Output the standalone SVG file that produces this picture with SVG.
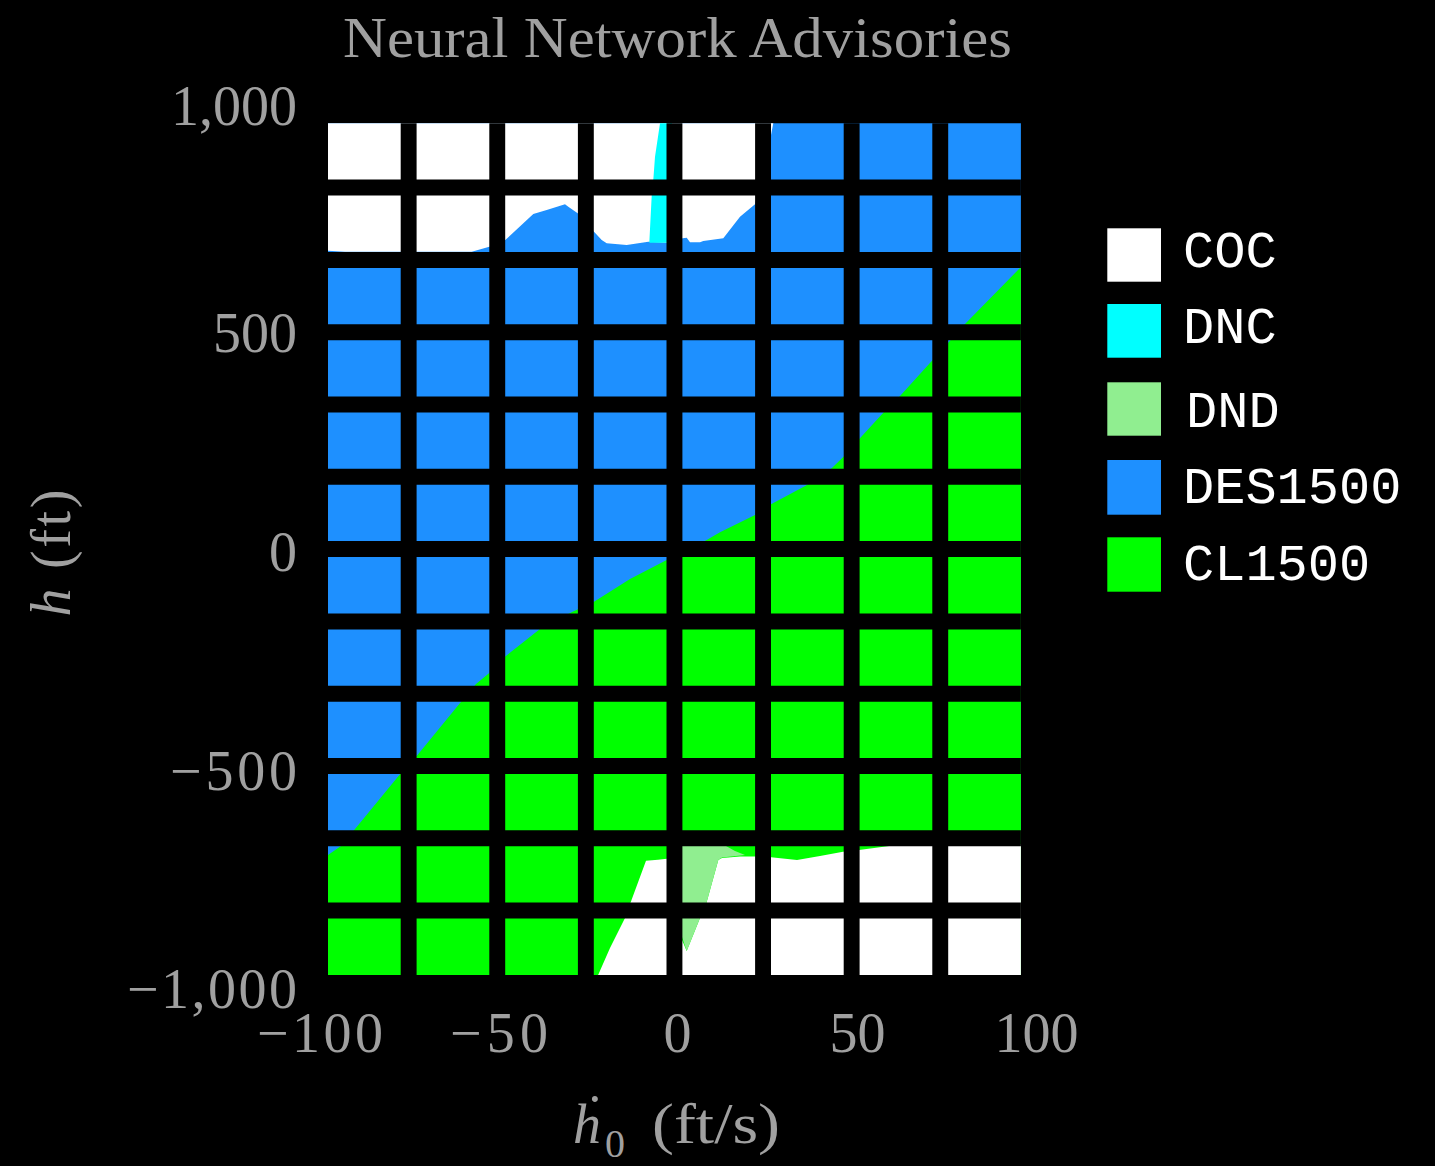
<svg xmlns="http://www.w3.org/2000/svg" width="1435" height="1166" viewBox="0 0 1435 1166">
  <style>
    .serif { font-family: "Liberation Serif", "DejaVu Serif", serif; fill: #a0a0a0; font-size: 56px; }
    .tick-y { text-anchor: end; }
    .tick-x { text-anchor: middle; }
    .legend-label { font-family: "Liberation Mono", "DejaVu Sans Mono", monospace; fill: #ffffff; font-size: 52px; }
    .coc { fill: #ffffff; }
    .dnc { fill: #00ffff; }
    .dnd { fill: #90ee90; }
    .des { fill: #1e90ff; }
    .cl  { fill: #00ff00; }
    .gap { stroke: #000000; fill: none; }
  </style>
  <defs>
    <clipPath id="plot-area">
      <rect x="328" y="123.3" width="692.9" height="851.6"/>
    </clipPath>
  </defs>

  <rect x="0" y="0" width="1435" height="1166" fill="#000000"/>

  <text id="title" class="serif" x="677.5" y="56.5" text-anchor="middle" textLength="669" lengthAdjust="spacingAndGlyphs">Neural Network Advisories</text>

  <!-- advisory regions over the (h0dot, h) plane -->
  <g id="heatmap" clip-path="url(#plot-area)">
    <rect class="des" x="320" y="115" width="710" height="870"/>
    <!-- climb region (lower right of the diagonal) -->
    <polygon class="cl" points="318,862 341,846 355,829 401,773 416.7,756 461.7,701 476,684 489,673.3 505,656.7 540,629 572,612 578,609.3 594,601.7 630,579 666.7,560 682,552 706.7,540 720,532.3 755,515 771,504.3 807,485 831.7,468.3 843,457.3 859,439.3 884,412 900,396 932,360.7 948,343 965,324 1020,268 1030,258 1030,990 318,990"/>
    <!-- clear of conflict, bottom right -->
    <polygon class="coc" points="1030,844 893,845.5 859,850 843,851.7 820,856 797,860 771,857.3 755,856.5 740,856.5 722,858 718.3,860 706.7,902 700,918 686.7,951 682,940 667,858.7 658,859.7 646,860.7 630.7,902.3 625,918 610,948 597.7,976 597.7,990 1030,990"/>
    <!-- do not descend -->
    <polygon class="dnd" points="682,846 726,846 735,851 745,855 722,857.5 718.3,860 706.7,902 700,918 686.7,951 682,937"/>
    <!-- clear of conflict, top -->
    <polygon class="coc" points="318,115 775,115 773.3,123.3 771,135 755,204.3 740,216.7 723.3,238.3 703.3,241 700,242.3 690,242.3 686.7,237.7 682.7,238.3 667,242.7 648.3,241.7 645,242.3 626.7,245 606.7,243.3 601.7,240 594,231.7 577.7,213.3 568.3,206.7 565,204.3 546.7,210 533.3,214 505.3,240 489.3,246.7 471.7,251.7 345,251.7 328,250.7 318,250.5"/>
    <!-- do not climb -->
    <polygon class="dnc" points="660,115 672,115 672,242.7 649.3,242.7 651.7,195.7 653.3,179.7 655,156.7 657.5,140 660,123.3"/>

    <!-- black separators between cells -->
    <g class="gap" stroke-width="15.9">
      <line x1="408.65" y1="115" x2="408.65" y2="985"/>
      <line x1="497.25" y1="115" x2="497.25" y2="985"/>
      <line x1="585.85" y1="115" x2="585.85" y2="985"/>
      <line x1="674.45" y1="115" x2="674.45" y2="985"/>
      <line x1="763.05" y1="115" x2="763.05" y2="985"/>
      <line x1="851.65" y1="115" x2="851.65" y2="985"/>
      <line x1="940.25" y1="115" x2="940.25" y2="985"/>
    </g>
    <g class="gap" stroke-width="16">
      <line x1="320" y1="187.6" x2="1030" y2="187.6"/>
      <line x1="320" y1="259.9" x2="1030" y2="259.9"/>
      <line x1="320" y1="332.2" x2="1030" y2="332.2"/>
      <line x1="320" y1="404.5" x2="1030" y2="404.5"/>
      <line x1="320" y1="476.8" x2="1030" y2="476.8"/>
      <line x1="320" y1="549.1" x2="1030" y2="549.1"/>
      <line x1="320" y1="621.4" x2="1030" y2="621.4"/>
      <line x1="320" y1="693.7" x2="1030" y2="693.7"/>
      <line x1="320" y1="766" x2="1030" y2="766"/>
      <line x1="320" y1="838.3" x2="1030" y2="838.3"/>
      <line x1="320" y1="910.6" x2="1030" y2="910.6"/>
    </g>
  </g>

  <!-- axis ticks and labels -->
  <g id="y-axis" class="serif tick-y">
    <text x="297" y="125">1,000</text>
    <text x="297" y="352">500</text>
    <text x="297" y="571">0</text>
    <text x="297" y="790" textLength="127" lengthAdjust="spacing">−500</text>
    <text x="297" y="1008" textLength="170" lengthAdjust="spacing">−1,000</text>
  </g>
  <g id="x-axis" class="serif tick-x">
    <text x="320" y="1052" textLength="126" lengthAdjust="spacing">−100</text>
    <text x="499" y="1052" textLength="98" lengthAdjust="spacing">−50</text>
    <text x="677.5" y="1052">0</text>
    <text x="857.5" y="1052">50</text>
    <text x="1036.5" y="1052">100</text>
  </g>
  <g id="x-label" class="serif">
    <text x="573" y="1143" font-style="italic">ḣ</text>
    <text x="605" y="1157" font-size="40">0</text>
    <text x="652" y="1143" textLength="128" lengthAdjust="spacingAndGlyphs">(ft/s)</text>
  </g>
  <text id="y-label" class="serif" transform="translate(70,553) rotate(-90)" text-anchor="middle" textLength="127" lengthAdjust="spacing"><tspan font-style="italic">h</tspan> (ft)</text>

  <!-- legend -->
  <g id="legend">
    <g id="legend-coc">
      <rect class="coc" x="1107.3" y="228.3" width="53.7" height="53.4"/>
      <text class="legend-label" x="1183" y="266.7">COC</text>
    </g>
    <g id="legend-dnc">
      <rect class="dnc" x="1107.3" y="304" width="53.7" height="53.7"/>
      <text class="legend-label" x="1183" y="343.3">DNC</text>
    </g>
    <g id="legend-dnd">
      <rect class="dnd" x="1107.3" y="382.3" width="53.7" height="53.4"/>
      <text class="legend-label" x="1186" y="426.7">DND</text>
    </g>
    <g id="legend-des">
      <rect class="des" x="1107.3" y="460" width="53.7" height="54.7"/>
      <text class="legend-label" x="1183" y="502.7">DES1500</text>
    </g>
    <g id="legend-cl">
      <rect class="cl" x="1107.3" y="537.3" width="53.7" height="54.4"/>
      <text class="legend-label" x="1183" y="580">CL1500</text>
    </g>
  </g>
</svg>
